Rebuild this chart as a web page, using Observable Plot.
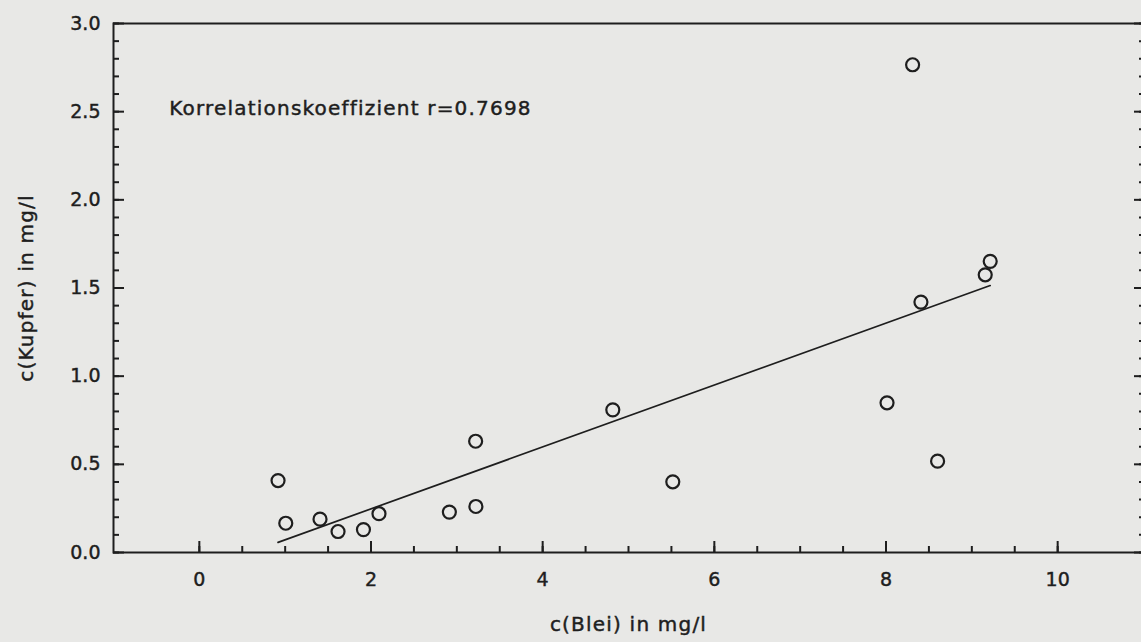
<!DOCTYPE html>
<html>
<head>
<meta charset="utf-8">
<script src="https://cdn.jsdelivr.net/npm/d3@7"></script>
<script src="https://cdn.jsdelivr.net/npm/@observablehq/plot@0.6"></script>
<style>
  html, body { margin: 0; padding: 0; background: #e8e8e6; overflow: hidden; }
  #chart svg { display: block; background: #e8e8e6; max-width: none !important; }
  #chart svg text { stroke: #1e1e1e; stroke-width: 0.45px; }
</style>
</head>
<body>
<div id="chart"></div>
<script>
// Data (lead vs copper concentration, mg/l)
const blei   = [0.917, 1.007, 1.406, 1.616, 1.912, 2.093, 2.913, 3.222, 3.219, 4.817, 5.516, 8.012, 8.310, 8.407, 8.601, 9.156, 9.214];
const kupfer = [0.408, 0.166, 0.189, 0.119, 0.130, 0.220, 0.229, 0.261, 0.631, 0.809, 0.401, 0.849, 2.766, 1.420, 0.518, 1.575, 1.651];

const xMajorTicks = [0, 2, 4, 6, 8, 10];
const xMinorTicks = [0, 0.5, 1, 1.5, 2, 2.5, 3, 3.5, 4, 4.5, 5, 5.5, 6, 6.5, 7, 7.5, 8, 8.5, 9, 9.5, 10];
const yMajorTicks = [0, 0.5, 1.0, 1.5, 2.0, 2.5, 3.0];
const yMinorTicks = [0, 0.1, 0.2, 0.3, 0.4, 0.5, 0.6, 0.7, 0.8, 0.9, 1.0, 1.1, 1.2, 1.3, 1.4, 1.5, 1.6, 1.7, 1.8, 1.9, 2.0, 2.1, 2.2, 2.3, 2.4, 2.5, 2.6, 2.7, 2.8, 2.9, 3.0];

const xLabel = "c(Blei) in mg/l";
const yLabel = "c(Kupfer) in mg/l";
const annotation = [{x: -0.35, y: 2.52, text: "Korrelationskoeffizient r=0.7698"}];

const data = blei.map((b, i) => ({blei: b, kupfer: kupfer[i]}));
const ink = "#1e1e1e";
const font = "'DejaVu Sans', 'Liberation Sans', sans-serif";

const chart = Plot.plot({
  width: 1150,
  height: 642,
  marginLeft: 113,
  marginRight: 7,
  marginTop: 23,
  marginBottom: 90,
  style: {fontFamily: font, color: ink, background: "#e8e8e6", maxWidth: "none"},
  x: {domain: [-1, 11]},
  y: {domain: [0, 3]},
  marks: [
    Plot.frame({stroke: ink, strokeWidth: 2}),
    // left axis ticks (inward)
    Plot.axisY(yMinorTicks, {anchor: "left", tickSize: -6, fill: "none", label: null, stroke: ink, strokeWidth: 2}),
    Plot.axisY(yMajorTicks, {anchor: "left", tickSize: -11, fill: "none", label: null, stroke: ink, strokeWidth: 2}),
    Plot.axisY(yMajorTicks, {anchor: "left", tickSize: 0, tickPadding: 13, tickFormat: ".1f", label: null, fontSize: 19, fill: ink}),
    // right axis (ticks only, inward)
    Plot.axisY(yMinorTicks, {anchor: "right", tickSize: -5, fill: "none", label: null, stroke: ink, strokeWidth: 2}),
    Plot.axisY(yMajorTicks, {anchor: "right", tickSize: -10, fill: "none", label: null, stroke: ink, strokeWidth: 2}),
    // bottom axis ticks (inward)
    Plot.axisX(xMinorTicks, {anchor: "bottom", tickSize: -6, fill: "none", label: null, stroke: ink, strokeWidth: 2}),
    Plot.axisX(xMajorTicks, {anchor: "bottom", tickSize: -11, fill: "none", label: null, stroke: ink, strokeWidth: 2}),
    Plot.axisX(xMajorTicks, {anchor: "bottom", tickSize: 0, tickPadding: 20, tickFormat: "d", label: null, fontSize: 19, fill: ink}),
    // axis titles
    Plot.text([xLabel], {frameAnchor: "bottom", textAnchor: "middle", lineAnchor: "bottom", dy: 78, text: d => d, fontSize: 20, fill: ink}),
    Plot.text([yLabel], {frameAnchor: "left", textAnchor: "middle", lineAnchor: "middle", dx: -87, rotate: -90, text: d => d, fontSize: 20, fill: ink}),
    // regression line
    Plot.linearRegressionY(data, {x: "blei", y: "kupfer", ci: 0, stroke: ink, strokeWidth: 1.7}),
    // points
    Plot.dot(data, {x: "blei", y: "kupfer", r: 6.5, stroke: ink, strokeWidth: 2.2, fill: "none"}),
    // annotation
    Plot.text(annotation, {x: "x", y: "y", text: "text", textAnchor: "start", fontSize: 20, fill: ink})
  ]
});
chart.querySelectorAll("text").forEach(t => {
  if (!t.closest("[aria-label$='tick label']")) t.style.letterSpacing = "1.2px";
});
document.getElementById("chart").append(chart);
</script>
</body>
</html>
